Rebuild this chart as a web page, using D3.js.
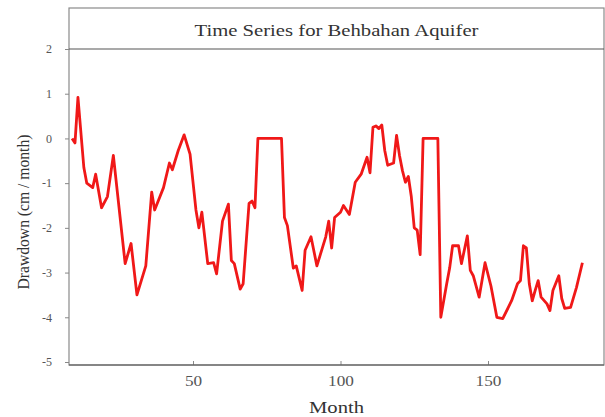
<!DOCTYPE html>
<html>
<head>
<meta charset="utf-8">
<script src="https://cdn.jsdelivr.net/npm/d3@7/dist/d3.min.js"></script>
<style>
  body { margin: 0; background: #fff; }
  text { font-family: "Liberation Serif", "DejaVu Serif", serif; }
</style>
</head>
<body>
<div id="chart"></div>
<script>
var width = 605,
    height = 417;

// values (month, drawdown cm/month)
var months = [9, 10, 11, 13, 14, 16, 17, 19, 21, 23, 27, 29, 31, 34, 36, 37, 40, 42, 43, 45,
  47, 49, 51, 52, 53, 55, 57, 58, 60, 62, 63, 64, 66, 67, 69, 70, 71, 72, 80, 81,
  82, 84, 85, 87, 88, 90, 92, 95, 96, 97, 98, 100, 101, 103, 105, 107, 109, 110, 111, 112,
  113, 114, 115, 116, 118, 119, 120, 121, 122, 123, 124, 125, 126, 127, 128, 133, 134, 136, 137, 138,
  140, 141, 143, 144, 145, 147, 149, 151, 153, 155, 158, 160, 161, 162, 163, 164, 165, 166, 167, 168,
  170, 171, 172, 174, 175, 176, 178, 180, 182];
var drawdown = [0, -0.1, 0.92, -0.65, -1.0, -1.1, -0.8, -1.55, -1.3, -0.38, -2.8, -2.35, -3.5, -2.85, -1.2, -1.6, -1.1, -0.55, -0.7, -0.27,
  0.08, -0.35, -1.6, -2.0, -1.65, -2.8, -2.78, -3.03, -1.85, -1.47, -2.73, -2.8, -3.37, -3.25, -1.45, -1.4, -1.55, 0, 0, -1.77,
  -1.95, -2.9, -2.85, -3.4, -2.5, -2.2, -2.85, -2.2, -1.85, -2.45, -1.77, -1.65, -1.5, -1.7, -0.98, -0.8, -0.42, -0.77, 0.25, 0.28,
  0.22, 0.3, -0.27, -0.6, -0.55, 0.07, -0.38, -0.72, -0.98, -0.85, -1.3, -2.0, -2.05, -2.6, 0, 0, -4.0, -3.25, -2.9, -2.4,
  -2.4, -2.8, -2.18, -2.95, -3.07, -3.55, -2.78, -3.3, -4.0, -4.03, -3.63, -3.25, -3.18, -2.4, -2.45, -3.25, -3.63, -3.4, -3.18, -3.55,
  -3.7, -3.85, -3.4, -3.07, -3.58, -3.8, -3.78, -3.33, -2.78];
var xTicks = [50, 100, 150];
var yTicks = [2, 1, 0, -1, -2, -3, -4, -5];
var title = "Time Series for Behbahan Aquifer";

var frameL = 69, frameR = 604, frameT = 8, frameB = 365, stripB = 49;

var x = d3.scaleLinear().domain([50, 150]).range([193, 488]);
var y = d3.scaleLinear().domain([2, -5]).range([stripB, 362]);

var svg = d3.select("#chart").append("svg")
    .attr("width", width)
    .attr("height", height);

// frame
svg.append("rect")
    .attr("x", frameL).attr("y", frameT)
    .attr("width", frameR - frameL).attr("height", frameB - frameT)
    .attr("fill", "none")
    .attr("stroke", "#8a8a8a")
    .attr("stroke-width", 1.2);

// strip line + title
svg.append("line")
    .attr("x1", frameL).attr("x2", frameR)
    .attr("y1", stripB).attr("y2", stripB)
    .attr("stroke", "#555").attr("stroke-width", 1.2);

svg.append("text")
    .attr("x", (frameL + frameR) / 2)
    .attr("y", 36)
    .attr("text-anchor", "middle")
    .attr("font-size", 17)
    .attr("textLength", 284)
    .attr("lengthAdjust", "spacingAndGlyphs")
    .attr("fill", "#333")
    .text(title);

// bottom axis (ticks pointing inward)
var xaxis = svg.append("g")
    .attr("transform", "translate(0," + frameB + ")")
    .call(d3.axisBottom(x).tickValues(xTicks).tickSize(-4).tickPadding(11));
xaxis.select(".domain").remove();
xaxis.append("line")
    .attr("x1", frameL).attr("x2", frameR)
    .attr("stroke", "#555").attr("stroke-width", 1.2);
xaxis.selectAll(".tick line").attr("stroke", "#888");
xaxis.selectAll(".tick text")
    .attr("font-size", 14)
    .attr("textLength", function(d) { return String(d).length * 8.6; })
    .attr("lengthAdjust", "spacingAndGlyphs")
    .attr("fill", "#555")
    .style("font-family", "Liberation Serif, serif");

// left axis
var yaxis = svg.append("g")
    .attr("transform", "translate(" + frameL + ",0)")
    .call(d3.axisLeft(y).tickValues(yTicks).tickSize(4).tickPadding(13));
yaxis.select(".domain").remove();
yaxis.selectAll(".tick line").attr("stroke", "#888");
yaxis.selectAll(".tick text")
    .attr("font-size", 12)
    .attr("fill", "#555")
    .style("font-family", "Liberation Serif, serif")
    .text(function(d) { return d; });

// axis labels
svg.append("text")
    .attr("x", (frameL + frameR) / 2)
    .attr("y", 413)
    .attr("text-anchor", "middle")
    .attr("font-size", 16)
    .attr("textLength", 55)
    .attr("lengthAdjust", "spacingAndGlyphs")
    .attr("fill", "#333")
    .text("Month");

svg.append("text")
    .attr("transform", "translate(29,212) rotate(-90)")
    .attr("text-anchor", "middle")
    .attr("font-size", 17)
    .attr("textLength", 155)
    .attr("lengthAdjust", "spacingAndGlyphs")
    .attr("fill", "#333")
    .text("Drawdown (cm / month)");

// series
var line = d3.line()
    .x(function(d, i) { return x(months[i]); })
    .y(function(d) { return y(d); });

svg.append("path")
    .datum(drawdown)
    .attr("d", line)
    .attr("fill", "none")
    .attr("stroke", "#f01818")
    .attr("stroke-width", 2.8)
    .attr("stroke-linejoin", "round");
</script>
</body>
</html>
